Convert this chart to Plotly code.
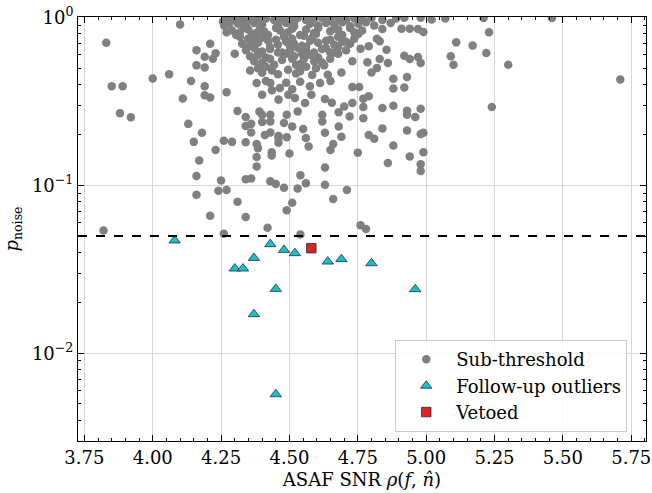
import math
import plotly.graph_objects as go

# ---------------- data ----------------
# Sub-threshold candidates: ASAF SNR and p_noise
sub_snr = [
    # sparse points
    4.10, 3.83, 3.85, 3.89, 3.88, 3.92, 4.00, 4.06, 4.11, 4.13, 4.18, 4.15, 4.17, 4.16, 4.16,
    4.21, 3.82, 4.26, 4.25, 4.24, 4.27, 4.23, 4.26, 4.29, 4.31, 4.34, 4.34, 4.36, 4.34, 4.38,
    4.38, 4.38, 4.16, 4.21, 4.16, 4.19, 4.19, 4.22, 4.23, 4.14, 4.19, 4.19, 4.21, 4.27, 4.30,
    4.27, 4.28, 4.31, 4.34, 4.34, 4.36, 4.36, 4.40, 4.40, 4.41, 4.43, 4.435, 4.435, 4.46, 4.43,
    4.45, 4.48, 4.50, 4.53, 4.54, 4.56, 4.51, 4.49, 4.42, 4.54, 4.76, 4.78,
    5.21, 5.46, 5.07, 5.02, 5.23, 5.11, 5.17, 5.22, 5.09, 5.10, 5.30, 5.71, 5.24, 4.99, 4.97,
    4.94, 4.91, 4.92, 4.98, 4.87, 4.84, 4.81, 4.78, 4.79, 4.76, 4.82, 4.83, 4.855, 4.83, 4.86,
    4.92, 4.94, 4.97, 4.98, 4.80, 4.82, 4.88, 4.93, 4.88, 4.92, 4.84, 4.88, 4.93, 4.93, 4.96,
    4.98, 4.77, 4.77, 4.79, 4.77, 4.755, 4.73, 4.73, 4.68, 4.72, 4.70, 4.68, 4.69, 4.63, 4.63,
    4.62, 4.62, 4.84, 4.79, 4.81, 4.93, 4.98, 4.99, 4.88, 4.66, 4.65, 4.75, 4.94, 4.99, 4.86,
    4.98, 4.98, 4.63, 4.63, 4.71, 4.66, 4.69, 4.64, 4.65, 4.73, 4.785,
    4.48, 4.51, 4.55, 4.46, 4.46, 4.49, 4.56, 4.57, 4.43, 4.385,
    4.612, 4.575, 4.58, 4.655, 4.557, 4.52, 4.496, 4.46, 4.40, 4.39, 4.43, 4.49, 4.53, 4.38,
    4.43, 4.465, 4.80, 4.84, 4.89, 4.257,
    # dense core, row by row
    4.268, 4.297, 4.326, 4.356, 4.385, 4.414, 4.444, 4.473, 4.502, 4.531, 4.561, 4.590, 4.619, 4.649, 4.678, 4.707, 4.737, 4.766,
    4.283, 4.341, 4.400, 4.458, 4.517, 4.576, 4.634, 4.693, 4.752,
    4.261, 4.312, 4.341, 4.371, 4.400, 4.458, 4.488, 4.517, 4.576, 4.605, 4.634, 4.664, 4.722, 4.752,
    4.334, 4.392, 4.451, 4.510, 4.605, 4.664, 4.722,
    4.290, 4.319, 4.349, 4.378, 4.407, 4.466, 4.495, 4.561, 4.590, 4.649, 4.678, 4.737, 4.766,
    4.305, 4.363, 4.422, 4.480, 4.539, 4.597, 4.693, 4.752,
    4.319, 4.349, 4.378, 4.400, 4.451, 4.480, 4.510, 4.553, 4.583, 4.649, 4.678, 4.737,
    4.363, 4.422, 4.510, 4.576, 4.634, 4.707,
    4.327, 4.356, 4.385, 4.458, 4.488, 4.517, 4.546, 4.605, 4.664, 4.693, 4.722,
    4.371, 4.429, 4.502, 4.561, 4.634, 4.678,
    4.341, 4.371, 4.400, 4.429, 4.473, 4.502, 4.531, 4.561, 4.619, 4.649, 4.707,
    4.385, 4.458, 4.546, 4.590, 4.664,
    4.356, 4.385, 4.414, 4.488, 4.517, 4.576, 4.605, 4.678,
    4.429, 4.510, 4.553, 4.649,
    4.371, 4.400, 4.473, 4.539, 4.590, 4.619,
    4.444, 4.524, 4.627,
    4.385, 4.414, 4.495, 4.561, 4.597,
    4.356, 4.436, 4.539,
    4.400, 4.458, 4.524, 4.583,
    4.414, 4.488, 4.539,
    4.436, 4.510,
]
sub_p = [
    # sparse points
    0.91, 0.71, 0.39, 0.39, 0.27, 0.255, 0.435, 0.46, 0.33, 0.233, 0.206, 0.182, 0.141, 0.114, 0.088,
    0.066, 0.054, 0.0515, 0.107, 0.093, 0.094, 0.163, 0.185, 0.182, 0.080, 0.065, 0.109, 0.11, 0.181, 0.13,
    0.148, 0.177, 0.64, 0.70, 0.52, 0.505, 0.585, 0.57, 0.615, 0.42, 0.39, 0.345, 0.335, 0.36, 0.61,
    0.82, 0.92, 0.278, 0.256, 0.226, 0.233, 0.207, 0.264, 0.239, 0.20, 0.207, 0.158, 0.151, 0.197, 0.106,
    0.102, 0.097, 0.155, 0.096, 0.115, 0.103, 0.079, 0.0713, 0.056, 0.051, 0.058, 0.055,
    0.997, 0.997, 0.99, 0.975, 0.818, 0.713, 0.684, 0.617, 0.589, 0.525, 0.525, 0.429, 0.294, 0.823, 0.857,
    0.861, 0.861, 1.0, 1.0, 0.93, 0.857, 0.90, 0.939, 0.675, 0.654, 0.75, 0.723, 0.645, 0.568, 0.537,
    0.594, 0.568, 0.583, 0.537, 0.472, 0.502, 0.433, 0.443, 0.378, 0.384, 0.29, 0.299, 0.279, 0.264, 0.256,
    0.287, 0.294, 0.252, 0.34, 0.329, 0.386, 0.386, 0.31, 0.273, 0.258, 0.296, 0.225, 0.195, 0.206, 0.328,
    0.264, 0.241, 0.219, 0.20, 0.19, 0.213, 0.203, 0.206, 0.173, 0.177, 0.163, 0.157, 0.149, 0.158, 0.136,
    0.134, 0.122, 0.128, 0.101, 0.094, 0.083, 0.472, 0.457, 0.42, 0.55, 0.542,
    0.236, 0.225, 0.217, 0.192, 0.18, 0.194, 0.192, 0.171, 0.241, 0.167,
    0.408, 0.39, 0.348, 0.311, 0.31, 0.332, 0.348, 0.325, 0.348, 0.276, 0.264, 0.264, 0.276, 0.408,
    0.408, 0.381, 1.0, 0.97, 0.99, 0.95,
    # dense core, row by row
    1.0, 0.98, 1.0, 0.97, 1.0, 0.99, 0.97, 1.0, 0.98, 1.0, 0.97, 0.99, 1.0, 0.98, 1.0, 0.97, 0.99, 1.0,
    0.95, 0.94, 0.96, 0.95, 0.94, 0.96, 0.95, 0.94, 0.96,
    0.90, 0.92, 0.89, 0.93, 0.91, 0.90, 0.93, 0.89, 0.92, 0.90, 0.93, 0.91, 0.89, 0.92,
    0.87, 0.86, 0.87, 0.86, 0.87, 0.86, 0.87,
    0.84, 0.82, 0.85, 0.81, 0.83, 0.84, 0.82, 0.85, 0.81, 0.83, 0.85, 0.82, 0.84,
    0.79, 0.80, 0.79, 0.80, 0.79, 0.80, 0.79, 0.80,
    0.77, 0.75, 0.78, 0.76, 0.74, 0.77, 0.75, 0.78, 0.76, 0.74, 0.77, 0.75,
    0.73, 0.73, 0.72, 0.73, 0.73, 0.72,
    0.70, 0.68, 0.71, 0.69, 0.72, 0.70, 0.68, 0.71, 0.69, 0.72, 0.70,
    0.67, 0.67, 0.68, 0.67, 0.66, 0.67,
    0.64, 0.66, 0.63, 0.65, 0.62, 0.64, 0.66, 0.63, 0.65, 0.62, 0.64,
    0.62, 0.62, 0.61, 0.62, 0.62,
    0.59, 0.60, 0.58, 0.61, 0.59, 0.60, 0.58, 0.61,
    0.57, 0.57, 0.57, 0.57,
    0.55, 0.54, 0.56, 0.53, 0.55, 0.54,
    0.525, 0.525, 0.52,
    0.50, 0.51, 0.49, 0.51, 0.50,
    0.485, 0.485, 0.48,
    0.47, 0.46, 0.465, 0.455,
    0.42, 0.41, 0.415,
    0.37, 0.375,
]

# Follow-up outliers
out_snr = [4.08, 4.30, 4.33, 4.37, 4.43, 4.48, 4.52, 4.45, 4.37, 4.45, 4.64, 4.69, 4.80, 4.96]
out_p = [0.047, 0.032, 0.032, 0.037, 0.0447, 0.0413, 0.0395, 0.0242, 0.0171, 0.0057, 0.0352, 0.0364, 0.0344, 0.0241]

# Vetoed
veto_snr = [4.58]
veto_p = [0.0423]

threshold = 0.05

x_range = [3.7266, 5.804]
y_range = [0.003, 1.01]

y_major = [0.01, 0.1, 1]
y_major_text = ["10<sup>\u22122</sup>", "10<sup>\u22121</sup>", "10<sup>0</sup>"]
y_minor = [0.003, 0.004, 0.005, 0.006, 0.007, 0.008, 0.009,
           0.02, 0.03, 0.04, 0.05, 0.06, 0.07, 0.08, 0.09,
           0.2, 0.3, 0.4, 0.5, 0.6, 0.7, 0.8, 0.9]

FONT = "DejaVu Serif"

fig = go.Figure()
fig.add_trace(go.Scatter(
    x=sub_snr, y=sub_p, mode="markers", name="Sub-threshold",
    legendgroup="a",
    marker=dict(color="#808080", size=8.5, line=dict(width=0)),
))
fig.add_trace(go.Scatter(
    x=out_snr, y=out_p, mode="markers", name="Follow-up outliers",
    legendgroup="b",
    marker=dict(color="#17becf", symbol="triangle-up", size=10,
                line=dict(color="#1a1a1a", width=0.7)),
))
fig.add_trace(go.Scatter(
    x=veto_snr, y=veto_p, mode="markers", name="Vetoed",
    legendgroup="c",
    marker=dict(color="#d62728", symbol="square", size=9.5,
                line=dict(color="#1a1a1a", width=0.7)),
))

fig.add_hline(y=threshold, line=dict(color="black", width=2, dash="dash"))

axis_common = dict(
    showline=True, linecolor="black", linewidth=1, mirror="allticks",
    ticks="inside", ticklen=6, tickwidth=1, tickcolor="black",
    showgrid=True, gridcolor="#d6d6d6", gridwidth=1, zeroline=False,
    tickfont=dict(family=FONT, size=18, color="black"),
    automargin=False,
)

fig.update_xaxes(
    range=x_range, tick0=3.75, dtick=0.25, tickformat=".2f",
    minor=dict(tick0=3.75, dtick=0.05, ticks="inside", ticklen=3, tickwidth=1,
               tickcolor="black", showgrid=False),
    title=dict(text="ASAF SNR <i>\u03c1</i>(<i>f</i>, <i>n\u0302</i>)",
               font=dict(family=FONT, size=18, color="black"), standoff=6),
    **axis_common,
)
fig.update_yaxes(
    type="log", range=[math.log10(y_range[0]), math.log10(y_range[1])],
    tickmode="array", tickvals=y_major, ticktext=y_major_text,
    minor=dict(tickmode="array", tickvals=y_minor, ticks="inside", ticklen=3,
               tickwidth=1, tickcolor="black", showgrid=False),
    title=dict(text="<i>p</i><sub>noise</sub>",
               font=dict(family=FONT, size=18, color="black"), standoff=8),
    **axis_common,
)

fig.update_layout(
    width=652, height=493,
    template="none",
    paper_bgcolor="white", plot_bgcolor="white",
    margin=dict(l=78, r=6, t=17, b=52),
    font=dict(family=FONT, size=18, color="black"),
    showlegend=True,
    legend=dict(
        x=0.967, y=0.021, xanchor="right", yanchor="bottom",
        bgcolor="rgba(255,255,255,0.85)", bordercolor="#cccccc", borderwidth=1,
        font=dict(family=FONT, size=18, color="black"),
        tracegroupgap=0, itemwidth=50,
    ),
)

fig.write_html("out.html", config={"displayModeBar": False},
               post_script="document.body.style.margin='0px';")
